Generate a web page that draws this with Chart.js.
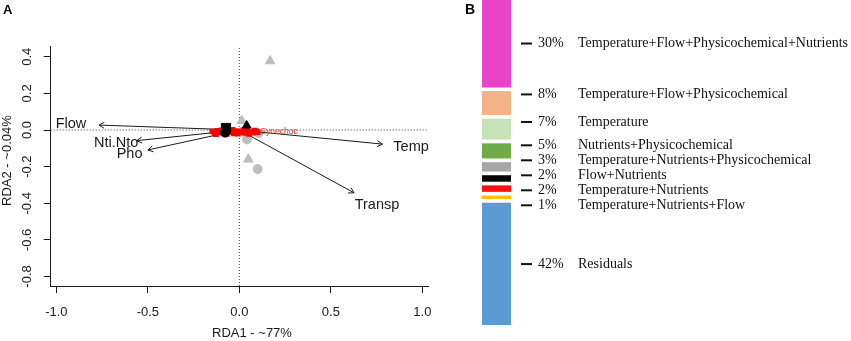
<!DOCTYPE html>
<html>
<head>
<meta charset="utf-8">
<script src="https://cdn.jsdelivr.net/npm/chart.js@4.4.0/dist/chart.umd.min.js"></script>
<style>
  html, body { margin: 0; padding: 0; background: #fff; }
  #wrap { position: relative; width: 851px; height: 341px; }
  #rda { position: absolute; left: 0; top: 0; }
  #part { position: absolute; left: 440px; top: 0; }
</style>
</head>
<body>
<div id="wrap">
  <canvas id="rda" width="440" height="341"></canvas>
  <canvas id="part" width="411" height="341"></canvas>
</div>
<script>
// ---- panel A : RDA biplot ----
const xTicks = [-1.0, -0.5, 0.0, 0.5, 1.0];
const yTicks = [-0.8, -0.6, -0.4, -0.2, 0.0, 0.2, 0.4];
const xRange = [-1.031, 1.031];
const yRange = [-0.852, 0.459];

const envNames = ["Flow", "Nti.Nto", "Pho", "Temp", "Transp"];
const envX = [-0.767, -0.561, -0.500, 0.782, 0.627];
const envY = [0.027, -0.058, -0.109, -0.077, -0.343];
const labelMult = 1.2; // labels sit a bit past the arrow tips

// site scores (grey)
const siteTriX = [0.168, 0.013, 0.049];
const siteTriY = [0.377, 0.051, -0.160];
const siteCircX = [0.042, 0.104, 0.100];
const siteCircY = [-0.051, -0.018, -0.213];

// group centroids (black)
const centSquare = [-0.073, 0.011];
const centCircle = [-0.078, -0.014];
const centTri = [0.040, 0.025];

// species scores (red), mostly piled up around the origin
const speciesX = [-0.148, -0.135, -0.12, -0.105, -0.09, -0.075, -0.06, -0.045, -0.03, -0.015, 0.0, 0.015, 0.03, 0.045, 0.06, 0.075, 0.09, 0.1,
  -0.128, -0.098, -0.068, -0.038, -0.008, 0.022, 0.052, 0.082];
const speciesY = [-0.008, -0.016, -0.004, -0.014, -0.009, -0.017, -0.005, -0.012, -0.018, -0.006, -0.013, -0.009, -0.016, -0.004, -0.011, -0.015, -0.007, -0.012,
  -0.022, -0.001, -0.021, 0.001, -0.020, -0.002, -0.021, -0.003];
const speciesLabel = { name: "Synechoc", x: 0.217, y: -0.009 };

// ---- panel B : variance partitioning ----
const parts = [30, 8, 7, 5, 3, 2, 2, 1, 42];
const partNames = [
  "Temperature+Flow+Physicochemical+Nutrients",
  "Temperature+Flow+Physicochemical",
  "Temperature",
  "Nutrients+Physicochemical",
  "Temperature+Nutrients+Physicochemical",
  "Flow+Nutrients",
  "Temperature+Nutrients",
  "Temperature+Nutrients+Flow",
  "Residuals"
];
const partColors = ["#ea42c9", "#f2b186", "#c8e2b8", "#6fab49", "#a6a6a6", "#000000", "#ff1010", "#ffc000", "#5b9bd5"];
const GAP = 1.5;        // white space between blocks, in % units
const LABEL_STEP = 15;  // min distance between label lines, px

const sans = "'Liberation Sans', Arial, sans-serif";
const serif = "'Liberation Serif', 'Times New Roman', serif";
const ink = "#1a1a1a";

const pts = (xs, ys) => xs.map((x, i) => ({ x: x, y: ys[i] }));

// ---------------- chart A ----------------
const datasetsA = [];
// dotted zero lines
datasetsA.push({ data: [{ x: 0, y: yRange[0] }, { x: 0, y: yRange[1] }], showLine: true, pointRadius: 0,
  borderColor: "#444", borderWidth: 1, borderDash: [1, 2], order: 10 });
datasetsA.push({ data: [{ x: xRange[0], y: 0 }, { x: xRange[1], y: 0 }], showLine: true, pointRadius: 0,
  borderColor: "#444", borderWidth: 1, borderDash: [1, 2], order: 10 });
// sites
datasetsA.push({ data: pts(siteTriX, siteTriY), pointStyle: "triangle", pointRadius: 5.5,
  backgroundColor: "#bdbdbd", borderColor: "#bdbdbd", order: 9 });
datasetsA.push({ data: pts(siteCircX, siteCircY), pointStyle: "circle", pointRadius: 4.5,
  backgroundColor: "#bdbdbd", borderColor: "#bdbdbd", order: 9 });
// arrows
envNames.forEach((n, i) => {
  datasetsA.push({ label: n, data: [{ x: 0, y: 0 }, { x: envX[i], y: envY[i] }], showLine: true, pointRadius: 0,
    borderColor: ink, borderWidth: 1, order: 8 });
});
// species
datasetsA.push({ data: pts(speciesX, speciesY), pointStyle: "rect", pointRadius: 4,
  backgroundColor: "#ff0000", borderColor: "#ff0000", borderWidth: 0, order: 7 });
// centroids
datasetsA.push({ data: [{ x: centCircle[0], y: centCircle[1] }], pointStyle: "circle", pointRadius: 4.5,
  backgroundColor: "#000", borderColor: "#000", order: 6 });
datasetsA.push({ data: [{ x: centSquare[0], y: centSquare[1] }], pointStyle: "rect", pointRadius: 6.5,
  backgroundColor: "#000", borderColor: "#000", order: 5 });
datasetsA.push({ data: [{ x: centTri[0], y: centTri[1] }], pointStyle: "triangle", pointRadius: 5,
  backgroundColor: "#000", borderColor: "#000", order: 5 });

const biplotText = {
  id: "biplotText",
  afterDatasetsDraw(chart) {
    const ctx = chart.ctx;
    const sx = chart.scales.x, sy = chart.scales.y;
    const ox = sx.getPixelForValue(0), oy = sy.getPixelForValue(0);
    ctx.save();
    // arrow heads
    ctx.strokeStyle = ink;
    ctx.lineWidth = 1;
    envNames.forEach((n, i) => {
      const px = sx.getPixelForValue(envX[i]), py = sy.getPixelForValue(envY[i]);
      const a = Math.atan2(py - oy, px - ox);
      const L = 6;
      ctx.beginPath();
      ctx.moveTo(px - L * Math.cos(a - Math.PI / 6), py - L * Math.sin(a - Math.PI / 6));
      ctx.lineTo(px, py);
      ctx.lineTo(px - L * Math.cos(a + Math.PI / 6), py - L * Math.sin(a + Math.PI / 6));
      ctx.stroke();
    });
    // arrow labels
    ctx.fillStyle = ink;
    ctx.font = "14.5px " + sans;
    ctx.textAlign = "center";
    ctx.textBaseline = "middle";
    envNames.forEach((n, i) => {
      ctx.fillText(n, sx.getPixelForValue(envX[i] * labelMult), sy.getPixelForValue(envY[i] * labelMult));
    });
    // species label
    ctx.fillStyle = "#ff2a2a";
    ctx.font = "8.5px " + sans;
    ctx.fillText(speciesLabel.name, sx.getPixelForValue(speciesLabel.x), sy.getPixelForValue(speciesLabel.y));
    // panel letter
    ctx.fillStyle = "#000";
    ctx.font = "bold 13px " + sans;
    ctx.textAlign = "left";
    ctx.textBaseline = "alphabetic";
    ctx.fillText("A", 3, 14);
    ctx.restore();
  }
};

const axisCommon = {
  type: "linear",
  grid: { drawOnChartArea: false, drawTicks: true, tickLength: 7, color: ink },
  border: { display: true, color: ink, width: 1 }
};

new Chart(document.getElementById("rda"), {
  type: "scatter",
  data: { datasets: datasetsA },
  options: {
    responsive: false,
    animation: false,
    devicePixelRatio: 1,
    events: [],
    layout: { padding: { top: 46, right: 12, left: 0, bottom: 0 } },
    plugins: { legend: { display: false }, tooltip: { enabled: false } },
    scales: {
      x: Object.assign({}, axisCommon, {
        position: "bottom",
        min: xRange[0], max: xRange[1],
        afterBuildTicks: s => { s.ticks = xTicks.map(v => ({ value: v })); },
        afterFit: s => { s.height = 55; s.paddingLeft = 0; s.paddingRight = 0; },
        ticks: { font: { family: sans, size: 13 }, color: ink, padding: 12, maxRotation: 0, autoSkip: false,
          callback: v => Number(v).toFixed(1) },
        title: { display: true, text: "       RDA1 - ~77%", font: { family: sans, size: 13 }, color: ink, padding: 0 }
      }),
      y: Object.assign({}, axisCommon, {
        position: "left",
        min: yRange[0], max: yRange[1],
        afterBuildTicks: s => { s.ticks = yTicks.map(v => ({ value: v })); },
        afterFit: s => { s.width = 50.7; s.paddingTop = 0; s.paddingBottom = 0; },
        ticks: { font: { family: sans, size: 13 }, color: ink, padding: 5, minRotation: 90, maxRotation: 90,
          crossAlign: "center", autoSkip: false, callback: v => Number(v).toFixed(1) },
        title: { display: true, text: "   RDA2 - ~0.04%", font: { family: sans, size: 13 }, color: ink, padding: 0 }
      })
    }
  },
  plugins: [biplotText]
});

// ---------------- chart B ----------------
const datasetsB = [];
parts.forEach((v, i) => {
  datasetsB.push({ label: partNames[i], data: [v], backgroundColor: partColors[i], borderWidth: 0, stack: "s", partIndex: i });
  if (i < parts.length - 1) {
    datasetsB.push({ label: "", data: [GAP], backgroundColor: "rgba(0,0,0,0)", borderWidth: 0, stack: "s" });
  }
});
const totalB = parts.reduce((a, b) => a + b, 0) + GAP * (parts.length - 1);

const partLabels = {
  id: "partLabels",
  afterDatasetsDraw(chart) {
    const ctx = chart.ctx;
    // wanted label line for each block: middle of big blocks, near the top of small ones
    const items = [];
    chart.data.datasets.forEach((ds, di) => {
      if (ds.partIndex === undefined) return;
      const bar = chart.getDatasetMeta(di).data[0];
      const top = Math.min(bar.y, bar.base), bottom = Math.max(bar.y, bar.base);
      const h = bottom - top;
      items.push({ i: ds.partIndex, y: h > 60 ? (top + bottom) / 2 : top + Math.min(h / 2, 3) });
    });
    // push crowded labels apart
    for (let pass = 0; pass < 200; pass++) {
      for (let k = 1; k < items.length; k++) {
        const d = items[k].y - items[k - 1].y;
        if (d < LABEL_STEP) {
          const s = (LABEL_STEP - d) / 2;
          items[k - 1].y -= s;
          items[k].y += s;
        }
      }
    }
    ctx.save();
    items.forEach(it => {
      ctx.strokeStyle = "#111";
      ctx.lineWidth = 2;
      ctx.beginPath();
      ctx.moveTo(81, it.y);
      ctx.lineTo(92, it.y);
      ctx.stroke();
      ctx.fillStyle = "#111";
      ctx.font = "14px " + serif;
      ctx.textAlign = "left";
      ctx.textBaseline = "middle";
      ctx.fillText(parts[it.i] + "%", 98, it.y);
      ctx.fillText(partNames[it.i], 138, it.y);
    });
    ctx.fillStyle = "#000";
    ctx.font = "bold 14px " + sans;
    ctx.textBaseline = "alphabetic";
    ctx.fillText("B", 25, 13.5);
    ctx.restore();
  }
};

new Chart(document.getElementById("part"), {
  type: "bar",
  data: { labels: [""], datasets: datasetsB },
  options: {
    responsive: false,
    animation: false,
    devicePixelRatio: 1,
    events: [],
    layout: { padding: { top: 0, right: 340, left: 42, bottom: 16 } },
    datasets: { bar: { barPercentage: 1, categoryPercentage: 1 } },
    plugins: { legend: { display: false }, tooltip: { enabled: false } },
    scales: {
      x: { stacked: true, display: false },
      y: { stacked: true, display: false, reverse: true, min: 0, max: totalB }
    }
  },
  plugins: [partLabels]
});
</script>
</body>
</html>
